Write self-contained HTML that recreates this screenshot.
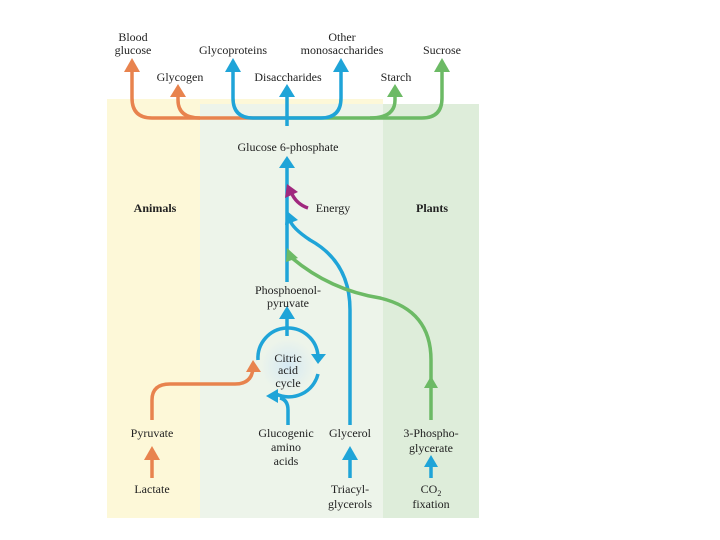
<!DOCTYPE html>
<html><head><style>
body{margin:0;background:#fff;}
svg{display:block}
text{font-family:"Liberation Serif",serif;font-size:12px;fill:#222;text-anchor:middle}
</style></head><body>
<svg width="720" height="540" viewBox="0 0 720 540">
<defs>
<radialGradient id="cg" cx="50%" cy="50%" r="50%"><stop offset="0" stop-color="#cfe6f5"/><stop offset="1" stop-color="#edf4ea"/></radialGradient>
</defs>
<rect x="107" y="99" width="276" height="419" fill="#fdf8d8"/>
<rect x="200" y="104" width="183" height="414" fill="#edf4ea"/>
<rect x="383" y="104" width="96" height="414" fill="#deedda"/>
<circle cx="288" cy="366" r="27" fill="url(#cg)" opacity="0.8"/>
<g fill="none" stroke-width="3.5" stroke-linecap="butt">
<path d="M287 118 H152 Q132 118 132 98 V70" stroke="#e8834e"/>
<path d="M200 118 Q178 118 178 100 V93" stroke="#e8834e"/>
<path d="M287 118 H422 Q442 118 442 98 V70" stroke="#6cba65"/>
<path d="M370 118 Q395 118 395 100 V93" stroke="#6cba65"/>
<path d="M287 118 H253 Q233 118 233 98 V70" stroke="#1fa4d8"/>
<path d="M287 118 H321 Q341 118 341 98 V70" stroke="#1fa4d8"/>
<path d="M287 126 V93" stroke="#1fa4d8"/>
<path d="M287 282 V164" stroke="#1fa4d8"/>
<path d="M308 208 Q296 204 291 192" stroke="#a0287e"/>
<path d="M350 425 V310 Q350 262 310 240 Q292 228 290 220" stroke="#1fa4d8"/>
<path d="M431 420 V360 Q431 310 380 298 Q330 290 292 258" stroke="#6cba65"/>
<path d="M258 360 A30 30 0 0 1 318 356" stroke="#1fa4d8"/>
<path d="M318 374 A30 30 0 0 1 276 394" stroke="#1fa4d8"/>
<path d="M287 336 V318" stroke="#1fa4d8"/>
<path d="M288 425 V410 Q288 400 280 398" stroke="#1fa4d8"/>
<path d="M152 420 V400 Q152 384 170 384 H235 Q252 384 253 368" stroke="#e8834e"/>
<path d="M152 478 V458" stroke="#e8834e"/>
<path d="M350 478 V458" stroke="#1fa4d8"/>
<path d="M431 478 V464" stroke="#1fa4d8"/>
</g>
<g>
<polygon points="132,58 124,72 140,72" fill="#e8834e"/>
<polygon points="178,84 170,97 186,97" fill="#e8834e"/>
<polygon points="233,58 225,72 241,72" fill="#1fa4d8"/>
<polygon points="341,58 333,72 349,72" fill="#1fa4d8"/>
<polygon points="287,84 279,97 295,97" fill="#1fa4d8"/>
<polygon points="395,84 387,97 403,97" fill="#6cba65"/>
<polygon points="442,58 434,72 450,72" fill="#6cba65"/>
<polygon points="287,156 279,168 295,168" fill="#1fa4d8"/>
<polygon points="287,184 285,198 298,192" fill="#a0287e"/>
<polygon points="287,211 285,225 298,220" fill="#1fa4d8"/>
<polygon points="287,248 286,262 298,258" fill="#6cba65"/>
<polygon points="431,376 424,388 438,388" fill="#6cba65"/>
<polygon points="287,306 279,319 295,319" fill="#1fa4d8"/>
<polygon points="318,364 311,354 326,354" fill="#1fa4d8"/>
<polygon points="266,396 278,389 278,403" fill="#1fa4d8"/>
<polygon points="253,360 246,372 261,372" fill="#e8834e"/>
<polygon points="152,446 144,460 160,460" fill="#e8834e"/>
<polygon points="350,446 342,460 358,460" fill="#1fa4d8"/>
<polygon points="431,455 424,467 438,467" fill="#1fa4d8"/>
</g>
<text x="133" y="41">Blood</text><text x="133" y="54">glucose</text>
<text x="233" y="54">Glycoproteins</text>
<text x="342" y="41">Other</text><text x="342" y="54">monosaccharides</text>
<text x="442" y="54">Sucrose</text>
<text x="180" y="81">Glycogen</text>
<text x="288" y="81">Disaccharides</text>
<text x="396" y="81">Starch</text>
<text x="288" y="151">Glucose 6-phosphate</text>
<text x="155" y="212" style="font-weight:bold">Animals</text>
<text x="432" y="212" style="font-weight:bold">Plants</text>
<text x="333" y="212">Energy</text>
<text x="288" y="294">Phosphoenol-</text><text x="288" y="307">pyruvate</text>
<text x="288" y="362">Citric</text><text x="288" y="374">acid</text><text x="288" y="387">cycle</text>
<text x="152" y="437">Pyruvate</text>
<text x="286" y="437">Glucogenic</text><text x="286" y="451">amino</text><text x="286" y="465">acids</text>
<text x="350" y="437">Glycerol</text>
<text x="431" y="437">3-Phospho-</text><text x="431" y="452">glycerate</text>
<text x="152" y="493">Lactate</text>
<text x="350" y="493">Triacyl-</text><text x="350" y="508">glycerols</text>
<text x="431" y="493">CO<tspan font-size="8" dy="3">2</tspan></text><text x="431" y="508">fixation</text>
</svg>
</body></html>
